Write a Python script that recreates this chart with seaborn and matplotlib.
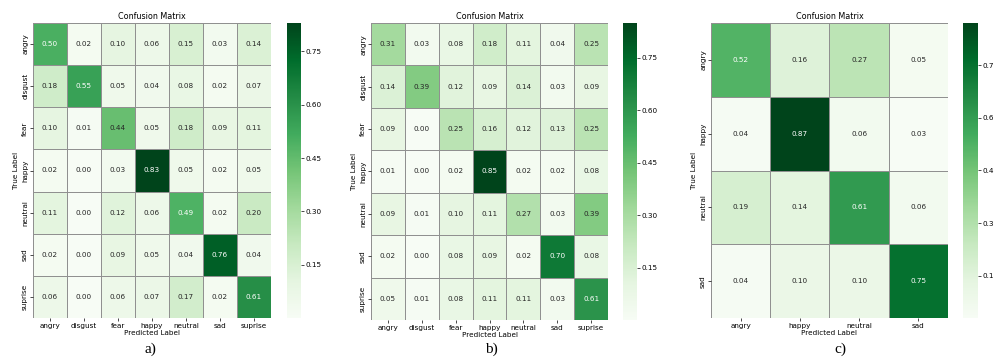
import matplotlib
matplotlib.use("Agg")
import matplotlib.pyplot as plt
import seaborn as sns
import numpy as np

labels_7 = ['angry', 'disgust', 'fear', 'happy', 'neutral', 'sad', 'suprise']
labels_4 = ['angry', 'happy', 'neutral', 'sad']

cm_a = [
    [0.50, 0.02, 0.10, 0.06, 0.15, 0.03, 0.14],
    [0.18, 0.55, 0.05, 0.04, 0.08, 0.02, 0.07],
    [0.10, 0.01, 0.44, 0.05, 0.18, 0.09, 0.11],
    [0.02, 0.00, 0.03, 0.83, 0.05, 0.02, 0.05],
    [0.11, 0.00, 0.12, 0.06, 0.49, 0.02, 0.20],
    [0.02, 0.00, 0.09, 0.05, 0.04, 0.76, 0.04],
    [0.06, 0.00, 0.06, 0.07, 0.17, 0.02, 0.61],
]
cm_b = [
    [0.31, 0.03, 0.08, 0.18, 0.11, 0.04, 0.25],
    [0.14, 0.39, 0.12, 0.09, 0.14, 0.03, 0.09],
    [0.09, 0.00, 0.25, 0.16, 0.12, 0.13, 0.25],
    [0.01, 0.00, 0.02, 0.85, 0.02, 0.02, 0.08],
    [0.09, 0.01, 0.10, 0.11, 0.27, 0.03, 0.39],
    [0.02, 0.00, 0.08, 0.09, 0.02, 0.70, 0.08],
    [0.05, 0.01, 0.08, 0.11, 0.11, 0.03, 0.61],
]
cm_c = [
    [0.52, 0.16, 0.27, 0.05],
    [0.04, 0.87, 0.06, 0.03],
    [0.19, 0.14, 0.61, 0.06],
    [0.04, 0.10, 0.10, 0.75],
]
cbar_ticks = [0.15, 0.30, 0.45, 0.60, 0.75]
panel_tags = ['a)', 'b)', 'c)']

W, H = 995, 358
fig = plt.figure(figsize=(W / 100, H / 100), dpi=100)

# pixel boxes (left, top, right, bottom) for heatmap and colorbar
boxes = [
    ((33, 23, 271, 318), (287, 23, 301, 318), 150),
    ((371, 23, 608, 320), (623, 23, 637, 320), 491),
    ((711, 23, 948, 318), (963, 23, 978, 318), 840),
]


def px_axes(box):
    l, t, r, b = box
    return fig.add_axes([l / W, (H - b) / H, (r - l) / W, (b - t) / H])


FS = 5.2
for (hbox, cbox, tag_x), cm, labs, tag in zip(boxes, [cm_a, cm_b, cm_c],
                                            [labels_7, labels_7, labels_4], panel_tags):
    ax = px_axes(hbox)
    cax = px_axes(cbox)
    sns.heatmap(np.array(cm), annot=True, fmt='.2f', cmap='Greens',
                linewidths=0.7, linecolor='#909090',
                xticklabels=labs, yticklabels=labs,
                annot_kws={'fontsize': FS},
                ax=ax, cbar_ax=cax, cbar_kws={'ticks': cbar_ticks})
    ax.set_title('Confusion Matrix', fontsize=FS + 0.6, pad=3)
    ax.set_xlabel('Predicted Label', fontsize=FS, labelpad=1)
    ax.set_ylabel('True Label', fontsize=FS, labelpad=2)
    ax.tick_params(axis='both', labelsize=FS, length=2, width=0.5, pad=1.5)
    plt.setp(ax.get_yticklabels(), rotation=90, va='center')
    plt.setp(ax.get_xticklabels(), rotation=0)
    cax.tick_params(labelsize=FS, length=2, width=0.5, pad=1.5)
    cax.set_yticklabels([f'{t:.2f}' for t in cbar_ticks])
    fig.text(tag_x / W, (H - 349) / H, tag, ha='center', va='center',
             fontsize=11, family='Liberation Serif')

fig.savefig('out.png', dpi=100)
